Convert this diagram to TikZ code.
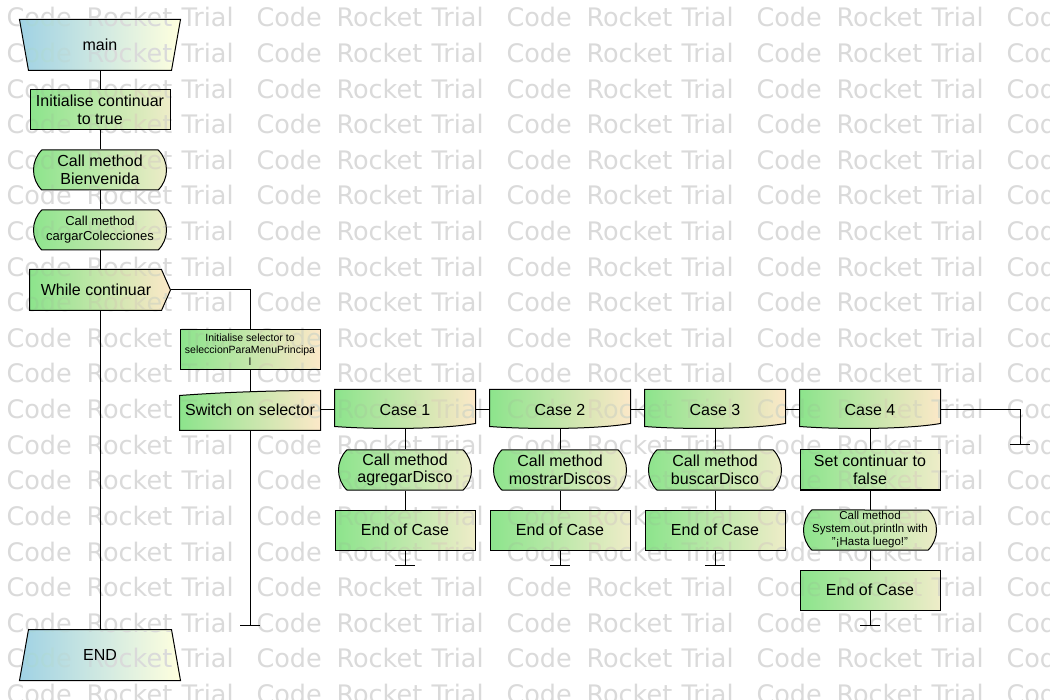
\documentclass[tikz,border=0pt]{standalone}
\usepackage{fontspec}
\setmainfont{Liberation Sans}
\newfontfamily\wmfont{DejaVu Sans}
\usetikzlibrary{shapes.misc,calc,backgrounds}
\definecolor{gL}{RGB}{140,228,140}
\definecolor{gR}{RGB}{238,236,200}
\definecolor{pR}{RGB}{252,232,200}
\definecolor{bL}{RGB}{160,210,228}
\definecolor{bR}{RGB}{255,255,222}
\definecolor{wmcol}{RGB}{218,218,218}
\tikzset{
  wire/.style={draw=black, line width=1pt},
  holder/.style={rectangle, draw=none, align=center, inner sep=1pt},
  proc/.style={rectangle, draw=black, line width=1pt, left color=gL, right color=gR,
    minimum width=140pt, minimum height=40pt, align=center, inner sep=1pt},
  callm/.style={rounded rectangle, rounded rectangle arc length=90, draw=black, line width=1pt,
    left color=gL, right color=gR, minimum width=135pt, minimum height=40pt, align=center, inner sep=1pt},
  termfill/.style={left color=bL, right color=bR, draw=black, line width=1pt},
  casefill/.style={left color=gL, right color=pR, draw=black, line width=1pt},
  wm/.style={anchor=base west, inner sep=0pt, text=wmcol, font=\wmfont\fontsize{25.5}{27}\selectfont},
  small/.style={font=\fontsize{13}{15}\selectfont},
}
\begin{document}
\begin{tikzpicture}[x=1pt, y=-1pt, line width=1pt, font=\fontsize{16}{17.5}\selectfont]
\useasboundingbox (0,0) rectangle (1050,700);
\clip (0,0) rectangle (1050,700);

% ---- main column ----
\node[holder, minimum width=160pt, minimum height=50pt] (main) at (100,45) {main};
\node[proc] (init1) at (100,110) {Initialise continuar\\to true};
\node[callm] (bien) at (100,170) {Call method\\Bienvenida};
\node[callm, small] (carg) at (100,230) {Call method\\cargarColecciones};
\node[holder, minimum width=140pt, minimum height=40pt] (while) at (100,290) {\hspace*{-8pt}While continuar};
\node[holder, minimum width=160pt, minimum height=50pt] (endn) at (100,655) {END};

% ---- loop body ----
\node[proc, right color=pR, font=\fontsize{10.5}{12}\selectfont] (initsel) at (250,350) {Initialise selector to\\seleccionParaMenuPrincipa\\l};
\node[holder, minimum width=140pt, minimum height=40pt] (sw) at (250,410) {Switch on selector};

% ---- cases ----
\node[holder, minimum width=140pt, minimum height=40pt] (c1) at (405,410) {Case 1};
\node[holder, minimum width=140pt, minimum height=40pt] (c2) at (560,410) {Case 2};
\node[holder, minimum width=140pt, minimum height=40pt] (c3) at (715,410) {Case 3};
\node[holder, minimum width=140pt, minimum height=40pt] (c4) at (870,410) {Case 4};

\node[callm] (a1) at (405,470) {Call method\\agregarDisco};
\node[callm] (a2) at (560,470) {Call method\\mostrarDiscos};
\node[callm] (a3) at (715,470) {Call method\\buscarDisco};
\node[proc] (s4) at (870,470) {Set continuar to\\false};

\node[proc] (e1) at (405,530) {End of Case};
\node[proc] (e2) at (560,530) {End of Case};
\node[proc] (e3) at (715,530) {End of Case};
\node[callm, font=\fontsize{11.5}{13}\selectfont] (p4) at (870,530) {Call method\\System.out.println with\\"¡Hasta luego!"};
\node[proc] (e4) at (870,590) {End of Case};

\coordinate (t1) at (405,565);
\coordinate (t2) at (560,565);
\coordinate (t3) at (715,565);
\coordinate (t4) at (870,625);
\coordinate (t5) at (1020,445);
\coordinate (tsw) at (250,625);

% ---- custom shapes on background ----
\begin{scope}[on background layer]
  \fill[white] (0,0) rectangle (1050,700);
  \shadedraw[termfill] (main.north west) -- (main.north east) -- ([xshift=-9pt]main.south east) -- ([xshift=9pt]main.south west) -- cycle;
  \shadedraw[termfill] ([xshift=9pt]endn.north west) -- ([xshift=-9pt]endn.north east) -- (endn.south east) -- (endn.south west) -- cycle;
  \shadedraw[casefill] (while.north west) -- ([xshift=-9pt]while.north east) -- (while.east) -- ([xshift=-9pt]while.south east) -- (while.south west) -- cycle;
  \shadedraw[casefill] ([yshift=-6pt]sw.north west) .. controls ([xshift=40pt,yshift=-3pt]sw.north west) and ([xshift=-50pt,yshift=-1pt]sw.north east) .. ([yshift=-1pt]sw.north east) -- (sw.south east) -- (sw.south west) -- cycle;
  \foreach \c in {c1,c2,c3,c4}{
    \shadedraw[casefill] (\c.north west) -- (\c.north east) -- ([yshift=7pt]\c.south east)
      .. controls ([xshift=-35pt,yshift=1pt]\c.south east) and ([xshift=40pt,yshift=1pt]\c.south west) .. ([yshift=4pt]\c.south west) -- cycle;
  }
\end{scope}

% ---- connectors ----
\draw[wire] (main.south) -- (init1.north);
\draw[wire] (init1.south) -- (bien.north);
\draw[wire] (bien.south) -- (carg.north);
\draw[wire] (carg.south) -- (while.north);
\draw[wire] (while.south) -- (endn.north);
\draw[wire] (while.east) -| (initsel.north);
\draw[wire] (initsel.south) -- ([yshift=-2pt]sw.north);
\draw[wire] (sw.south) -- (tsw);
\draw[wire] ([xshift=-10pt]tsw) -- ([xshift=10pt]tsw);
\draw[wire] (sw.east) -- (c1.west);
\draw[wire] (c1.east) -- (c2.west);
\draw[wire] (c2.east) -- (c3.west);
\draw[wire] (c3.east) -- (c4.west);
\draw[wire] (c4.east) -| (t5);
\draw[wire] ([xshift=-10pt]t5) -- ([xshift=10pt]t5);

\draw[wire] ([yshift=1pt]c1.south) -- (a1.north);
\draw[wire] ([yshift=1pt]c2.south) -- (a2.north);
\draw[wire] ([yshift=1pt]c3.south) -- (a3.north);
\draw[wire] ([yshift=1pt]c4.south) -- (s4.north);
\draw[wire] (a1.south) -- (e1.north);
\draw[wire] (a2.south) -- (e2.north);
\draw[wire] (a3.south) -- (e3.north);
\draw[wire] (s4.south) -- (p4.north);
\draw[wire] (p4.south) -- (e4.north);
\draw[wire] (e1.south) -- (t1);
\draw[wire] (e2.south) -- (t2);
\draw[wire] (e3.south) -- (t3);
\draw[wire] (e4.south) -- (t4);
\foreach \t in {t1,t2,t3,t4}{
  \draw[wire] ([xshift=-10pt]\t) -- ([xshift=10pt]\t);
}

% ---- watermark ----
\begin{scope}[blend mode=darken]
\foreach \r in {0,...,19}{
  \foreach \k in {0,...,4}{
    \node[wm] (wmc-\r-\k) at (6+250*\k, 27+35.6*\r) {Code};
    \node[wm] (wmr-\r-\k) at (86+250*\k, 27+35.6*\r) {Rocket};
    \node[wm] (wmt-\r-\k) at (181+250*\k, 27+35.6*\r) {Trial};
  }
}
\end{scope}
\end{tikzpicture}
\end{document}
